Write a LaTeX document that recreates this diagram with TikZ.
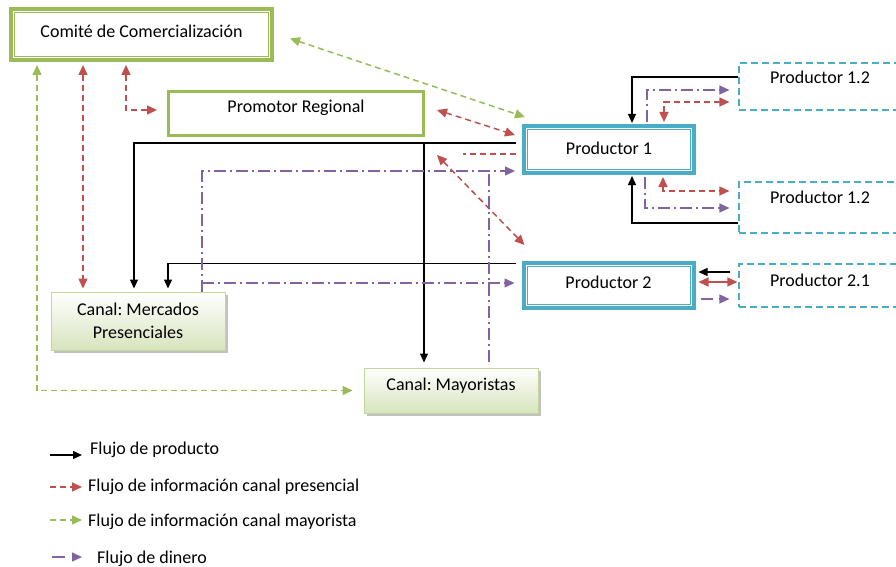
\documentclass[tikz,border=0pt]{standalone}
\usepackage{fontspec}
\setmainfont{Carlito}
\usetikzlibrary{arrows.meta,shadows}
\definecolor{cgreen}{HTML}{9BBB59}
\definecolor{cblue}{HTML}{4BACC6}
\definecolor{cred}{HTML}{C0504D}
\definecolor{cpurple}{HTML}{8064A2}
\definecolor{cfill}{HTML}{D7E4BD}
\definecolor{cline}{HTML}{C3D69B}
\frenchspacing

\begin{document}
\begin{tikzpicture}[
    x=1pt, y=-1pt,
    font=\fontsize{18}{23}\selectfont,
    lift/.style={text height=13pt, text depth=#1}, lift/.default=4pt,
    greenbox/.style={draw=cgreen, rectangle, align=center},
    prodbox/.style={draw=cblue, line width=4pt, rectangle, minimum width=170pt, minimum height=47pt},
    subbox/.style={draw=cblue, line width=1.2pt, dash pattern=on 7pt off 4pt, rectangle, minimum width=162pt},
    canal/.style={draw=cline, line width=1pt, rectangle, top color=white, bottom color=cfill, minimum width=174pt, align=center,
        drop shadow={shadow xshift=3pt, shadow yshift=-3pt, fill=black!40, opacity=0.6}},
    flujo/.style={-{Triangle[length=9pt,width=8pt]}, line width=1.3pt, black},
    inforp/.style={{Triangle[length=10pt,width=9pt]}-{Triangle[length=10pt,width=9pt]}, line width=1.5pt, cred, dash pattern=on 6pt off 4pt},
    inform/.style={{Triangle[length=10pt,width=9pt]}-{Triangle[length=10pt,width=9pt]}, line width=1.5pt, cgreen, dash pattern=on 6pt off 4pt},
    dinero/.style={-{Triangle[length=10pt,width=9pt]}, line width=1.3pt, cpurple, dash pattern=on 12pt off 4pt on 2pt off 4pt}
]
\useasboundingbox (0,0) rectangle (896,567);

% Boxes
\node[greenbox, line width=4pt, minimum width=261pt, minimum height=51pt, lift=7pt] (com) at (141.5,34.5) {Comité de Comercialización};
\node[greenbox, line width=3pt, minimum width=255pt, minimum height=44pt, lift=15pt] (prom) at (296,113.5) {Promotor Regional};
\node[prodbox, lift] (p1) at (609,149.5) {Productor 1};
\node[prodbox, minimum height=45pt, lift=7pt] (p2) at (608.5,285.5) {Productor 2};
\node[subbox, minimum height=47pt, lift=19pt] (p12a) at (820,86.5) {Productor 1.2};
\node[subbox, minimum height=51pt, lift=21pt] (p12b) at (820,207.5) {Productor 1.2};
\node[subbox, minimum height=43pt, lift=11pt] (p21) at (820,285.5) {Productor 2.1};
\node[canal, minimum height=58pt] (mer) at (138,321) {Canal: Mercados\\Presenciales};
\node[canal, minimum height=45pt, lift=13pt] (may) at (451,390.5) {Canal: Mayoristas};

% inner lines of the double borders
\foreach \n/\c in {com/cgreen, p1/cblue, p2/cblue}
    \draw[\c, line width=0.8pt] ([shift={(5.5pt,-5.5pt)}]\n.north west) rectangle ([shift={(-5.5pt,5.5pt)}]\n.south east);

% Helper points
\coordinate (k1) at ([shift={(-6pt,6.5pt)}]p1.west);
\coordinate (k2) at ([xshift=-27pt]may.north);
\coordinate (f1) at ([shift={(-85pt,-5.5pt)}]p1.west);
\coordinate (d1) at ([xshift=151.5pt]mer.north west);
\coordinate (d2) at ([shift={(38pt,6pt)}]may.north);
\coordinate (e1) at ([shift={(-7pt,-21.5pt)}]p1.west);
\coordinate (e2) at ([shift={(-7pt,2.5pt)}]p2.west);

% Informacion canal mayorista
\draw[inform] ([shift={(16pt,-4pt)}]com.east) -- ([shift={(3pt,7pt)}]p1.north west);
\draw[inform] ([shift={(28pt,-3pt)}]com.south west) |- ([xshift=-11pt]may.west);

% Informacion canal presencial
\draw[inforp] ([shift={(74pt,-3pt)}]com.south west) -- ([shift={(32.5pt,3pt)}]mer.north west);
\draw[inforp] ([shift={(117pt,-3pt)}]com.south west) |- ([shift={(-10pt,3.5pt)}]prom.west);
\draw[inforp] ([shift={(12pt,3.5pt)}]prom.east) -- ([shift={(-7pt,14.5pt)}]p1.west);
\draw[inforp, -] ([shift={(-6pt,-4.5pt)}]p1.west) -- ([shift={(-59pt,-4.5pt)}]p1.west);
\draw[inforp] (f1) -- ([shift={(3pt,16pt)}]p2.north west);
\draw[inforp] ([shift={(-32pt,2pt)}]p1.north east) |- ([shift={(-9pt,-15.5pt)}]p12a.west);
\draw[inforp] ([shift={(-33pt,-2pt)}]p1.south east) |- ([shift={(-9pt,16.5pt)}]p12b.west);
\draw[inforp, solid] ([shift={(3pt,3.5pt)}]p2.east) -- ([shift={(-1pt,3.5pt)}]p21.west);

% Producto
\draw[flujo] (k1) -| ([shift={(83.5pt,3pt)}]mer.north west);
\draw[flujo] (k2 |- k1) -- ([yshift=5pt]k2);
\draw[flujo] ([shift={(-6pt,22pt)}]p2.west) -| ([shift={(117.5pt,3pt)}]mer.north west);
\draw[flujo] ([yshift=9.5pt]p12a.west) -| ([shift={(110pt,1pt)}]p1.north west);
\draw[flujo] ([yshift=-15.5pt]p12b.west) -| ([shift={(110pt,-1pt)}]p1.south west);
\draw[flujo] ([shift={(-8pt,13.5pt)}]p21.west) -- ([shift={(3pt,13.5pt)}]p2.east);

% Dinero
\draw[dinero] (d1) |- (e1);
\draw[dinero] (d1 |- e2) -- (e2);
\draw[dinero, -] (d2) -- (d2 |- e1);
\draw[dinero] ([shift={(125pt,2pt)}]p1.north west) |- ([shift={(-9pt,-3.5pt)}]p12a.west);
\draw[dinero] ([shift={(123pt,-2pt)}]p1.south west) |- ([shift={(-9pt,-0.5pt)}]p12b.west);
\draw[dinero, dash pattern=on 12pt off 6pt] ([shift={(5pt,-13.5pt)}]p2.east) -- ([shift={(-9pt,-13.5pt)}]p21.west);

% Legend
\node[anchor=west, inner sep=0pt, lift] (lg1) at (90,449.5) {Flujo de producto};
\node[anchor=west, inner sep=0pt, lift] (lg2) at (88,487) {Flujo de información canal presencial};
\node[anchor=west, inner sep=0pt, lift] (lg3) at (88,521.5) {Flujo de información canal mayorista};
\node[anchor=west, inner sep=0pt, lift] (lg4) at (97,559) {Flujo de dinero};
\draw[flujo] ([shift={(-40pt,-5.5pt)}]lg1.west) -- ([shift={(-8pt,-5.5pt)}]lg1.west);
\draw[inforp, -{Triangle[length=10pt,width=9pt]}] ([xshift=-38pt]lg2.west) -- ([xshift=-6pt]lg2.west);
\draw[inform, -{Triangle[length=10pt,width=9pt]}] ([shift={(-38pt,1.5pt)}]lg3.west) -- ([shift={(-6pt,1.5pt)}]lg3.west);
\draw[dinero, dash pattern=on 13pt off 10pt] ([shift={(-45pt,2pt)}]lg4.west) -- ([shift={(-15pt,2pt)}]lg4.west);

\end{tikzpicture}
\end{document}
